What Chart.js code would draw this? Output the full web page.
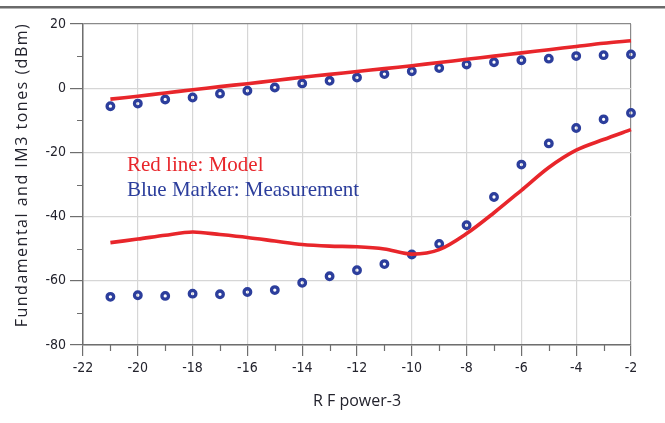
<!DOCTYPE html>
<html>
<head>
<meta charset="utf-8">
<script src="https://cdn.jsdelivr.net/npm/chart.js@4/dist/chart.umd.min.js"></script>
<style>
html, body { margin: 0; padding: 0; background: #fff; }
#wrap { width: 665px; height: 423px; }
</style>
</head>
<body>
<div id="wrap"><canvas id="chart" width="665" height="423"></canvas></div>
<script>
// values
const rfPower   = [-21, -20, -19, -18, -17, -16, -15, -14, -13, -12, -11, -10, -9, -8, -7, -6, -5, -4, -3, -2];
const fundModel = [-3.4, -2.5, -1.5, -0.5, 0.5, 1.4, 2.4, 3.4, 4.3, 5.2, 6.1, 7.0, 8.0, 9.0, 10.0, 11.0, 12.0, 13.0, 14.0, 14.8];
const fundMeas  = [-5.6, -4.8, -3.5, -2.9, -1.7, -0.8, 0.2, 1.5, 2.3, 3.3, 4.4, 5.3, 6.3, 7.4, 8.1, 8.7, 9.2, 10.0, 10.3, 10.5];
const im3Model  = [-48.1, -47.0, -45.8, -44.8, -45.6, -46.5, -47.6, -48.7, -49.2, -49.4, -50.1, -51.7, -50.3, -45.3, -38.8, -31.8, -24.7, -19.3, -16.0, -12.9];
const im3Meas   = [-65.0, -64.5, -64.7, -64.0, -64.2, -63.5, -62.9, -60.6, -58.6, -56.7, -54.8, -51.8, -48.5, -42.7, -33.9, -23.8, -17.2, -12.4, -9.7, -7.7];
const xTicks = [-22, -20, -18, -16, -14, -12, -10, -8, -6, -4, -2];
const yTicks = [-80, -60, -40, -20, 0, 20];
const xMinor = [-21, -19, -17, -15, -13, -11, -9, -7, -5, -3];
const yMinor = [-70, -50, -30, -10, 10];

const RED = '#e8262b';
const BLUE = '#2c3e9c';
const AXIS = '#6e6e6e';
const GRID = '#d6d6d6';
const TEXT = '#23232d';

const pts = ys => rfPower.map((x, i) => ({ x: x, y: ys[i] }));

const lineSet = (label, ys) => ({
    label: label, data: pts(ys), showLine: true,
    borderColor: RED, borderWidth: 3.6, pointRadius: 0, tension: 0.3, clip: false
});
const markerSet = (label, ys) => ({
    label: label, data: pts(ys), showLine: false,
    pointRadius: 3.3, pointBorderWidth: 3.3, pointBorderColor: BLUE,
    pointBackgroundColor: 'rgba(0,0,0,0)', clip: false
});

const decor = {
    id: 'decor',
    beforeDraw(chart) {
        const ctx = chart.ctx;
        ctx.save();
        ctx.fillStyle = '#6a6a6a';
        ctx.fillRect(0, 6, chart.width, 2.5);
        ctx.restore();
    },
    afterDraw(chart) {
        const { ctx, chartArea: a, scales: { x, y } } = chart;
        ctx.save();
        // minor ticks
        ctx.strokeStyle = AXIS;
        ctx.lineWidth = 1.2;
        ctx.beginPath();
        xMinor.forEach(v => {
            const px = Math.round(x.getPixelForValue(v)) + 0.5;
            ctx.moveTo(px, a.bottom); ctx.lineTo(px, a.bottom + 6);
        });
        yMinor.forEach(v => {
            const py = Math.round(y.getPixelForValue(v)) + 0.5;
            ctx.moveTo(a.left, py); ctx.lineTo(a.left - 6, py);
        });
        ctx.stroke();
        // y title
        ctx.translate(26.5, 175);
        ctx.rotate(-Math.PI / 2);
        ctx.font = '16px "Open Sans", sans-serif';
        ctx.letterSpacing = '1.5px';
        ctx.fillStyle = TEXT;
        ctx.textAlign = 'center';
        ctx.textBaseline = 'alphabetic';
        ctx.fillText('Fundamental and IM3 tones (dBm)', 0, 0);
        ctx.restore();
        // in-plot key
        ctx.save();
        ctx.font = '21px "Liberation Serif", "Times New Roman", serif';
        ctx.textBaseline = 'alphabetic';
        ctx.fillStyle = RED;
        ctx.fillText('Red line: Model', 127, 171);
        ctx.fillStyle = BLUE;
        ctx.fillText('Blue Marker: Measurement', 127, 196);
        ctx.restore();
    }
};

const tickFont = { family: '"Liberation Sans Narrow", "DejaVu Sans Condensed", sans-serif', size: 14 };

new Chart(document.getElementById('chart').getContext('2d'), {
    type: 'scatter',
    data: {
        datasets: [
            lineSet('Fundamental model', fundModel),
            lineSet('IM3 model', im3Model),
            markerSet('Fundamental measurement', fundMeas),
            markerSet('IM3 measurement', im3Meas)
        ]
    },
    options: {
        responsive: false,
        animation: false,
        devicePixelRatio: 1,
        layout: { padding: { top: 24, right: 34, left: 0, bottom: 0 } },
        plugins: { legend: { display: false }, tooltip: { enabled: false } },
        scales: {
            x: {
                type: 'linear', min: -22, max: -2,
                afterBuildTicks: s => { s.ticks = xTicks.map(v => ({ value: v })); },
                afterFit: s => { s.height = 78; },
                ticks: { font: tickFont, color: TEXT, padding: 4, maxRotation: 0 },
                grid: {
                    color: c => (c.tick && c.tick.value === -2) ? '#8a8a8a' : GRID,
                    lineWidth: 1.2, tickLength: 11, tickColor: AXIS
                },
                border: { display: true, color: AXIS, width: 1.5 },
                title: {
                    display: true, text: 'R F power-3', color: TEXT,
                    font: { family: '"Open Sans", sans-serif', size: 16 },
                    padding: { top: 0, bottom: 12 }
                }
            },
            y: {
                type: 'linear', min: -80, max: 20,
                afterBuildTicks: s => { s.ticks = yTicks.map(v => ({ value: v })); },
                afterFit: s => { s.width = 83; },
                ticks: { font: tickFont, color: TEXT, padding: 4 },
                grid: {
                    color: c => (c.tick && c.tick.value === 20) ? '#8a8a8a' : GRID,
                    lineWidth: 1.2, tickLength: 13, tickColor: AXIS
                },
                border: { display: true, color: AXIS, width: 1.5 }
            }
        }
    },
    plugins: [decor]
});
</script>
</body>
</html>
